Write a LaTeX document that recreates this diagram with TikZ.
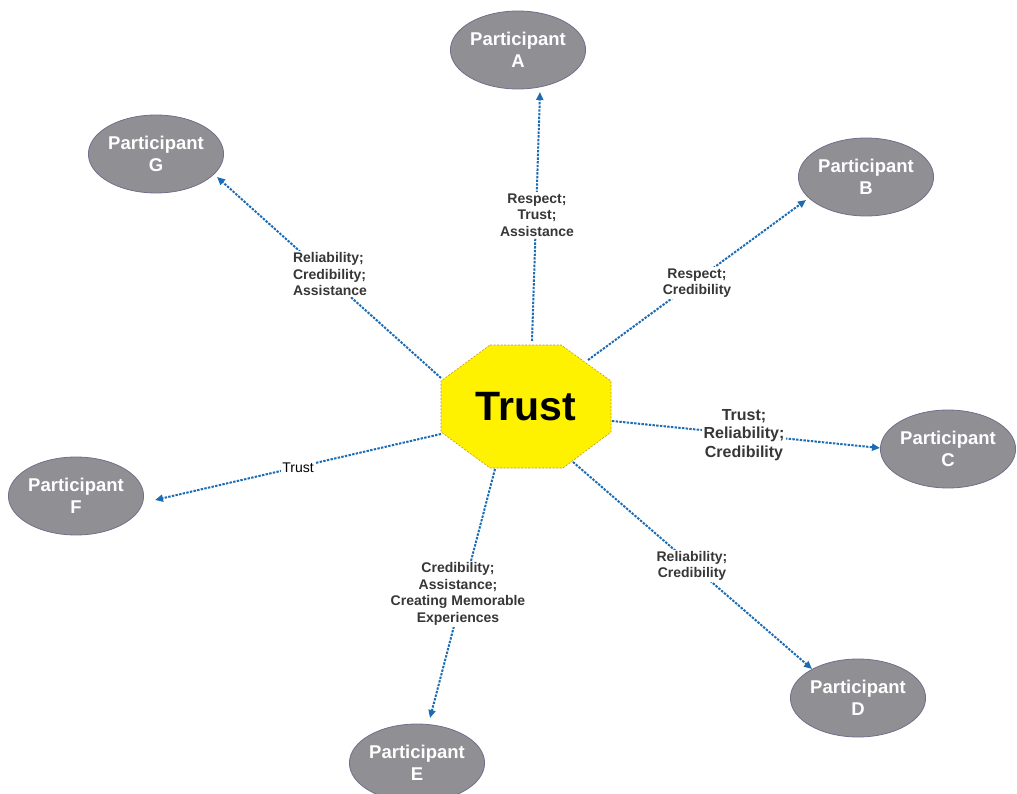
\documentclass[tikz,border=0pt]{standalone}
\usepackage{fontspec}
\setmainfont{Liberation Sans}
\usetikzlibrary{shapes.geometric,arrows.meta,calc}
\definecolor{ellfill}{RGB}{143,143,148}
\definecolor{elldraw}{RGB}{112,112,140}
\definecolor{arrowblue}{RGB}{28,108,180}
\definecolor{octfill}{RGB}{255,242,0}
\definecolor{octdraw}{RGB}{196,150,40}
\definecolor{labtext}{RGB}{55,55,55}
\begin{document}
\begin{tikzpicture}[x=1pt,y=-1pt,
  part/.style={ellipse, fill=ellfill, draw=elldraw, line width=0.8pt,
    minimum width=128pt, minimum height=78pt, inner sep=0pt, text=white,
    font=\fontsize{18.5}{22}\selectfont\bfseries, align=center},
  conn/.style={arrowblue, line width=2pt, dash pattern=on 2.4pt off 1.3pt,
    -{Triangle[length=8pt,width=7pt]}},
  lab/.style={fill=white, inner sep=1.5pt, text=labtext,
    font=\fontsize{14}{16.5}\selectfont\bfseries, align=center}]
\useasboundingbox (0,0) rectangle (1017,794);

% central octagon
\filldraw[fill=octfill, draw=octdraw, line width=0.6pt, dash pattern=on 2pt off 1.5pt]
  (490,345) -- (561,345) -- (611,381) -- (611,432) -- (563,468) -- (490,468)
  -- (441,432) -- (441,381) -- cycle;
\node (T) at (526,407) [inner sep=0pt, font=\fontsize{41}{41}\selectfont\bfseries] {Trust};

% participants
\node[part] (A) at (518,50)  {Participant\\A};
\node[part] (B) at (866,177) {Participant\\B};
\node[part] (C) at (948,449) {Participant\\C};
\node[part] (D) at (858,698) {Participant\\D};
\node[part] (E) at (417,763) {Participant\\E};
\node[part] (F) at (76,496)  {Participant\\F};
\node[part] (G) at (156,154) {Participant\\G};

% connectors
\draw[conn] ($(T.center)+(6,-66)$)  -- ($(A.center)+(22,42)$);
\draw[conn] ($(T.center)+(62,-47)$) -- ($(B.center)+(-60,23)$);
\draw[conn] ($(T.center)+(86,14)$)  -- ($(C.center)+(-68,-1)$);
\draw[conn] ($(T.center)+(47,55)$)  -- ($(D.center)+(-46,-29)$);
\draw[conn] ($(T.center)+(-31,62)$) -- ($(E.center)+(13,-45)$);
\draw[conn] ($(T.center)+(-85,27)$) -- ($(F.center)+(79,4)$);
\draw[conn] ($(T.center)+(-85,-29)$) -- ($(G.center)+(61,23)$);

% labels
\node[lab] (la) at (537,215) {Respect;\\Trust;\\Assistance};
\node[lab] (lb) at (697,283) {Respect;\\Credibility};
\node[lab, font=\fontsize{16}{18.5}\selectfont\bfseries] (lc) at (744,435) {Trust;\\Reliability;\\Credibility};
\node[lab] (ld) at (692,566) {Reliability;\\Credibility};
\node[lab] (le) at (458,594) {Credibility;\\Assistance;\\Creating Memorable\\Experiences};
\node[lab, font=\fontsize{14}{16}\selectfont, text=black, inner sep=1pt] (lf) at (298,468) {Trust};
\node[lab, align=left] (lg) at (330,274) {Reliability;\\Credibility;\\Assistance};
\end{tikzpicture}
\end{document}
